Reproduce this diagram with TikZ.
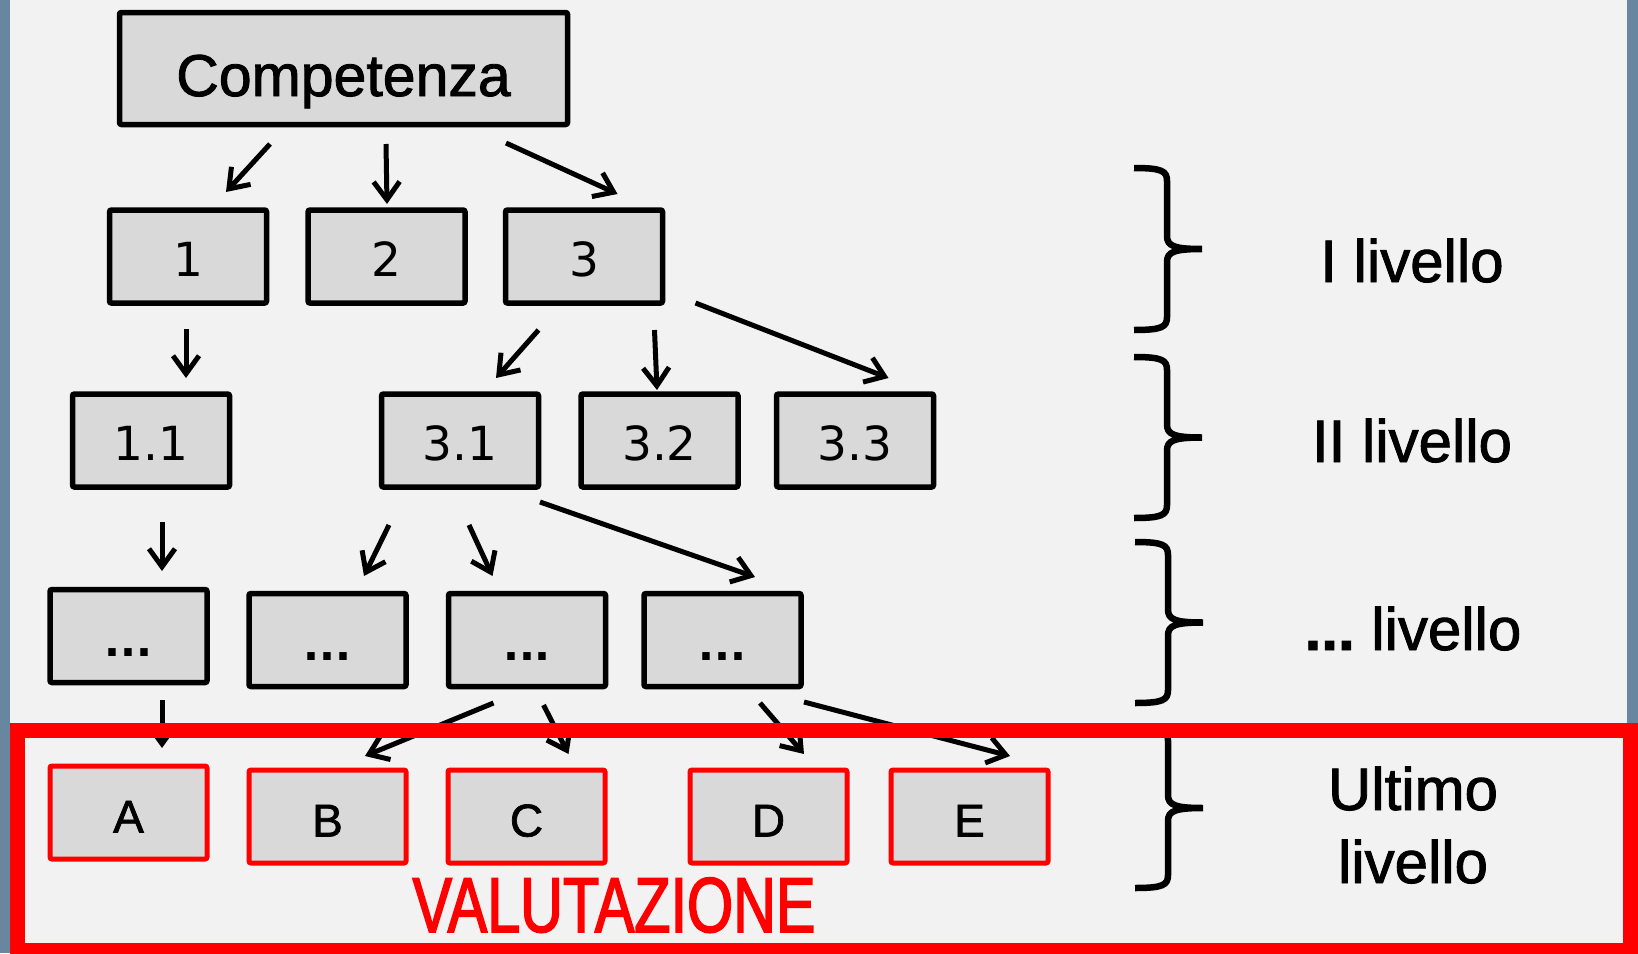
\documentclass[tikz,border=0pt]{standalone}
\usepackage{fontspec}
\setmainfont{Liberation Sans}[FakeBold=1.5]
\newfontfamily\numfont{DejaVu Sans}
\newfontfamily\narrowfont{Liberation Sans}[FakeStretch=0.76,FakeBold=2]
\usetikzlibrary{positioning,arrows.meta}
\definecolor{slateedge}{RGB}{104,134,160}
\definecolor{paper}{RGB}{242,242,242}
\definecolor{boxgray}{RGB}{217,217,217}
\definecolor{evalred}{RGB}{255,0,0}
\tikzset{
x=1pt, y=-1pt,
item/.style={draw=black, fill=boxgray, line width=5.5pt, rounded corners=2pt, inner sep=0pt,
  minimum width=157pt, minimum height=93pt, text height=40pt, text depth=0pt,
  font=\numfont\fontsize{47}{56}\selectfont},
leaf/.style={item, draw=evalred, line width=5pt, font=\fontsize{46}{56}\selectfont},
arr/.style={-{Straight Barb[length=18pt,width=26pt]}, line width=5pt},
lvl/.style={font=\fontsize{60}{73}\selectfont, align=center, anchor=base},
lvlbrace/.pic={
  \draw[line width=6.5pt] (0,-#1) .. controls (28,-#1) and (33,-#1+3) .. (33,-#1+13)
    -- (33,-13) .. controls (33,-3) and (40,0) .. (68,0)
    .. controls (40,0) and (33,3) .. (33,13)
    -- (33,#1-13) .. controls (33,#1-3) and (28,#1) .. (0,#1);
},
}
\newcommand\gap{\bfseries\fontsize{42}{50}\selectfont...}

\begin{document}
\begin{tikzpicture}

    \useasboundingbox (0,0) rectangle (1638,953);
    \fill[slateedge] (0,0) rectangle (1638,953);
    \fill[paper] (10,0) rectangle (1627,953);

    % the tree
    \node[item, minimum width=448pt, minimum height=112pt, text height=55pt,
      font=\fontsize{59}{70}\selectfont] (c) at (343.5,68.5) {Competenza};

    \node[item] (n1) at (188,256.5) {1};
    \node[item, right=36pt of n1] (n2) {2};
    \node[item, right=35pt of n2] (n3) {3};

    \node[item] (n11) at (151,440.5) {1.1};
    \node[item] (n31) at (460,440.5) {3.1};
    \node[item, right=37pt of n31] (n32) {3.2};
    \node[item, right=33pt of n32] (n33) {3.3};

    \node[item] (d1) at (128.5,636) {\gap};
    \node[item] (d2) at (327.5,640) {\gap};
    \node[item, right=37pt of d2] (d3) {\gap};
    \node[item, right=33pt of d3] (d4) {\gap};

    \node[leaf] (la) at (128.5,812.5) {A};
    \node[leaf] (lb) at (327.5,816.5) {B};
    \node[leaf, right=37pt of lb] (lc) {C};
    \node[leaf, right=80pt of lc] (ld) {D};
    \node[leaf, right=39pt of ld] (le) {E};

    \draw[arr] ([shift={(-73.5,75.5)}]c.center) -- ([shift={(38,-64.5)}]n1.center);
    \draw[arr] ([shift={(42.5,75.5)}]c.center) -- ([shift={(0.5,-52.5)}]n2.center);
    \draw[arr] ([shift={(162.5,74.5)}]c.center) -- ([shift={(33.5,-62.5)}]n3.center);

    \draw[arr] ([shift={(-2,72.5)}]n1.center) -- ([shift={(35,-62.5)}]n11.center);
    \draw[arr] ([shift={(-45.5,73.5)}]n3.center) -- ([shift={(36,-62.5)}]n31.center);
    \draw[arr] ([shift={(70.5,73.5)}]n3.center) -- ([shift={(-2.5,-50.5)}]n32.center);
    \draw[arr] ([shift={(111.5,46.5)}]n3.center) -- ([shift={(33.5,-62.5)}]n33.center);

    \draw[arr] ([shift={(11,81.5)}]n11.center) -- ([shift={(33.5,-65)}]d1.center);
    \draw[arr] ([shift={(-71,84.5)}]n31.center) -- ([shift={(36.5,-64)}]d2.center);
    \draw[arr] ([shift={(9,84.5)}]n31.center) -- ([shift={(-34.5,-64)}]d3.center);
    \draw[arr] ([shift={(80,61.5)}]n31.center) -- ([shift={(32.5,-63)}]d4.center);

    \draw[arr] ([shift={(33.5,64)}]d1.center) -- ([shift={(33.5,-64.5)}]la.center);
    \draw[arr] ([shift={(-33.5,63)}]d3.center) -- ([shift={(37.5,-60.5)}]lb.center);
    \draw[arr] ([shift={(16.5,65)}]d3.center) -- ([shift={(42,-62.5)}]lc.center);
    \draw[arr] ([shift={(37.5,63)}]d4.center) -- ([shift={(35.5,-62.5)}]ld.center);
    \draw[arr] ([shift={(81.5,62)}]d4.center) -- ([shift={(40.5,-60.5)}]le.center);

    % levels
    \pic at (1134,249) {lvlbrace=81};
    \pic at (1134,437.5) {lvlbrace=80.5};
    \pic at (1135,622.5) {lvlbrace=80.5};
    \pic at (1135,808) {lvlbrace=80};

    \node[lvl] (lv1) at (1412,282) {I livello};
    \node[lvl] (lv2) at (1412,462) {II livello};
    \node[lvl] (lv3) at (1413,650) {\bfseries...\mdseries\ livello};
    \node[lvl] (lv4) at (1413,883) {Ultimo\\livello};

    % evaluation frame
    \draw[evalred, line width=15pt] (17.5,730.5) rectangle (1630,950);
    \node[anchor=base, text=evalred, font=\narrowfont\fontsize{78}{90}\selectfont] (val) at (614,932) {VALUTAZIONE};

\end{tikzpicture}
\end{document}
